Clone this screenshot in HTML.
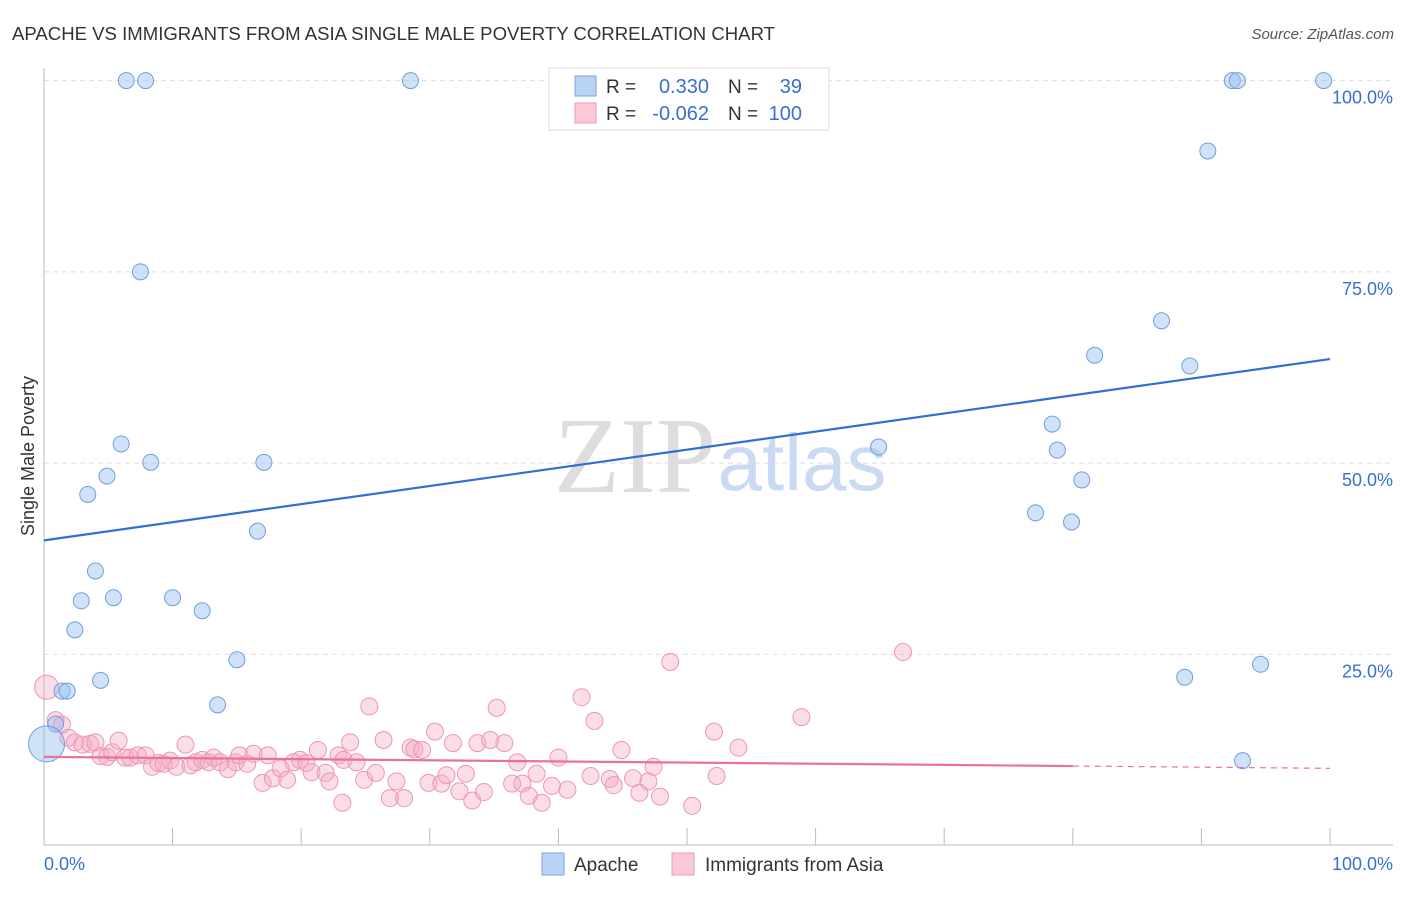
<!DOCTYPE html>
<html><head><meta charset="utf-8"><style>
body{margin:0;background:#fff;font-family:"Liberation Sans",sans-serif}
</style></head><body>
<svg width="1406" height="892" xmlns="http://www.w3.org/2000/svg" font-family="Liberation Sans, sans-serif">
<text x="12" y="40" font-size="18" fill="#333" textLength="763" lengthAdjust="spacingAndGlyphs">APACHE VS IMMIGRANTS FROM ASIA SINGLE MALE POVERTY CORRELATION CHART</text>
<text x="1394" y="39" font-size="15" fill="#555" font-style="italic" text-anchor="end">Source: ZipAtlas.com</text>
<text x="635" y="492" font-size="108" fill="#ddd" font-family="Liberation Serif, serif" text-anchor="middle">ZIP</text>
<text x="802" y="490" font-size="80" fill="#c9daf2" text-anchor="middle">atlas</text>
<g id="grid"></g><g id="pts"></g><g id="lines"></g>
<text transform="translate(34,456) rotate(-90)" font-size="18" fill="#333" text-anchor="middle">Single Male Poverty</text>
<text x="44" y="870" font-size="18" fill="#3a6fd0">0.0%</text>
<text x="1393" y="870" font-size="18" fill="#3a6fd0" text-anchor="end">100.0%</text>
<g>
<rect x="549" y="68" width="280" height="62" fill="#fff" stroke="#ddd"/>
<rect x="575" y="76" width="21" height="20" fill="#b8d3f5" stroke="#7aa6e0"/>
<rect x="575" y="103" width="21" height="20" fill="#fcc8d8" stroke="#eb9ab6"/>
<text x="606" y="93" font-size="19" fill="#333">R =</text><text x="709" y="93" font-size="20" fill="#3a6fd0" text-anchor="end">0.330</text>
<text x="728" y="93" font-size="19" fill="#333">N =</text><text x="802" y="93" font-size="20" fill="#3a6fd0" text-anchor="end">39</text>
<text x="606" y="120" font-size="19" fill="#333">R =</text><text x="709" y="120" font-size="20" fill="#3a6fd0" text-anchor="end">-0.062</text>
<text x="728" y="120" font-size="19" fill="#333">N =</text><text x="802" y="120" font-size="20" fill="#3a6fd0" text-anchor="end">100</text>
</g>
<g><rect x="542" y="853" width="22" height="22" fill="#b8d3f5" stroke="#7aa6e0"/><text x="574" y="871" font-size="19" fill="#333">Apache</text></g>
<g><rect x="672" y="853" width="22" height="22" fill="#fcc8d8" stroke="#eb9ab6"/><text x="705" y="871" font-size="19" fill="#333">Immigrants from Asia</text></g>
</svg>
<script>
const yTicks=[25,50,75,100];
const yTickLabels=["25.0%","50.0%","75.0%","100.0%"];
const blueX=[6.4,7.9,28.5,92.4,92.8,99.5,90.5,7.5,86.9,81.7,89.1,78.4,78.8,64.9,6.0,4.9,8.3,17.1,3.4,80.7,77.1,79.9,16.6,4.0,2.9,5.4,10.0,12.3,2.4,15.0,4.4,1.4,1.8,13.5,88.7,94.6,93.2,0.9,0.2];
const blueY=[100,100,100,100,100,100,90.8,75,68.6,64.1,62.7,55.1,51.7,52.1,52.5,48.3,50.1,50.1,45.9,47.8,43.5,42.3,41.1,35.9,32.0,32.4,32.4,30.7,28.2,24.3,21.6,20.2,20.2,18.4,22.0,23.7,11.1,15.9,13.3];
const pinkX=[0.2,0.9,1.4,1.9,2.4,3.0,3.6,4.0,4.4,4.9,5.3,5.8,6.3,6.7,7.3,7.9,8.4,8.9,9.3,9.8,10.3,11.0,11.4,11.8,12.3,12.8,13.2,13.7,14.3,14.9,15.2,15.8,16.3,17.0,17.4,17.8,18.4,18.9,19.4,19.9,20.4,20.8,21.3,21.9,22.2,22.9,23.3,23.8,24.3,24.9,25.3,25.8,26.4,26.9,27.4,28.0,28.5,28.8,29.4,29.9,30.4,30.9,31.3,31.8,32.3,32.8,33.3,33.7,34.2,34.7,35.2,35.8,36.4,36.8,37.2,37.7,38.3,38.7,39.5,40.0,40.7,41.8,42.8,42.5,44.0,44.3,44.9,45.8,46.3,47.0,47.4,47.9,48.7,50.4,52.1,52.3,54.0,58.9,66.8,23.2];
const pinkY=[20.7,16.4,15.8,14.1,13.5,13.2,13.3,13.5,11.7,11.6,12.2,13.7,11.5,11.5,11.8,11.8,10.3,10.8,10.7,11.1,10.3,13.2,10.5,10.9,11.2,10.9,11.5,10.9,10.0,10.9,11.8,10.7,12.0,8.2,11.8,8.8,10.1,8.6,10.9,11.2,10.8,9.6,12.5,9.5,8.4,11.8,11.2,13.5,10.9,8.6,18.2,9.5,13.8,6.2,8.4,6.2,12.8,12.6,12.5,8.2,14.9,8.1,9.2,13.4,7.1,9.4,5.9,13.4,7.0,13.8,18.0,13.4,8.1,10.9,8.1,6.5,9.4,5.6,7.8,11.5,7.3,19.4,16.3,9.1,8.7,7.9,12.5,8.8,6.9,8.4,10.3,6.4,24.0,5.2,14.9,9.1,12.8,16.8,25.3,5.6];
const blueTrend=[39.9,63.6];
const pinkTrend=[11.6,10.4,10.1];
const X=v=>44+v*12.86, Y=v=>845.6-v*7.65;
const NS="http://www.w3.org/2000/svg";
function mk(t,a,p){const e=document.createElementNS(NS,t);for(const k in a)e.setAttribute(k,a[k]);p.appendChild(e);return e;}
const g=document.getElementById('grid');
yTicks.forEach((t,i)=>{
 const l=mk('line',{x1:44,x2:1393,y1:Y(t),y2:Y(t),stroke:'#ddd','stroke-dasharray':'5,4'},g);
 
 
 const tx=mk('text',{x:1393,y:Y(t)+23,'font-size':18,fill:'#3a6fd0','text-anchor':'end'},g);
 tx.textContent=yTickLabels[i];
 
 
});
mk('line',{x1:44,x2:44,y1:68,y2:845,stroke:'#bbb'},g);
mk('line',{x1:44,x2:1393,y1:845,y2:845,stroke:'#bbb'},g);
for(let i=1;i<=10;i++){const t=mk('line',{x1:X(i*10),x2:X(i*10),y1:828,y2:845,stroke:'#bbb'},g);
 
 }
const p=document.getElementById('pts');
pinkX.forEach((x,i)=>{const c=mk('circle',{cx:X(x),cy:Y(pinkY[i]),r:i==0?12:8.5,fill:'rgba(246,170,196,0.4)',stroke:'#eb97b4','stroke-width':1},p);
 
 });
blueX.forEach((x,i)=>{const c=mk('circle',{cx:X(x),cy:Y(blueY[i]),r:i==blueX.length-1?18:8,fill:'rgba(150,190,240,0.45)',stroke:'#6f9fdc','stroke-width':1},p);
 
 });
const L=document.getElementById('lines');
const b=mk('line',{x1:X(0),y1:Y(blueTrend[0]),x2:X(100),y2:Y(blueTrend[1]),stroke:'#2f6fd6','stroke-width':2.2},L);


const k=mk('line',{x1:X(0),y1:Y(pinkTrend[0]),x2:X(80),y2:Y(pinkTrend[1]),stroke:'#e8729a','stroke-width':2.2},L);


const kd=mk('line',{x1:X(80),y1:Y(pinkTrend[1]),x2:X(100),y2:Y(pinkTrend[2]),stroke:'#e8729a','stroke-width':1.2,'stroke-dasharray':'6,5'},L);


</script>
</body></html>
